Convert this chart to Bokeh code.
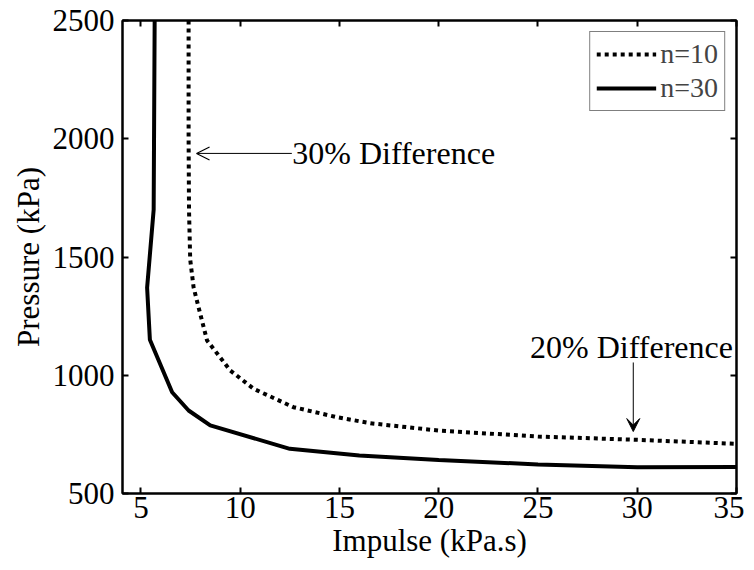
from bokeh.plotting import figure
from bokeh.models import (Range1d, Arrow, OpenHead, VeeHead, Label, Legend, LegendItem,
                          LinearAxis, FixedTicker, CustomJSTickFormatter)
from bokeh.embed import file_html
from bokeh.resources import INLINE

# ---- data ----
impulse_n10 = [7.40, 7.40, 7.42, 7.48, 7.65, 7.90, 8.33, 9.50, 10.67, 12.68, 14.86, 16.56, 20.0, 25.0, 30.0, 35.0]
pressure_n10 = [2500, 2000, 1700, 1490, 1372, 1288, 1147, 1020, 943, 865, 823, 797, 766, 741, 727, 710]

impulse_n30 = [5.69, 5.64, 5.31, 5.45, 6.57, 7.40, 8.49, 12.5, 16.0, 20.0, 25.0, 30.0, 35.0]
pressure_n30 = [2500, 1700, 1370, 1150, 928, 851, 788, 689, 661, 642, 623, 611, 612]

x_ticks = [5, 10, 15, 20, 25, 30, 35]
y_ticks = [500, 1000, 1500, 2000, 2500]
series_labels = ["n=10", "n=30"]

FONT = "Liberation Serif"
FS_TICK = "31px"
FS_LABEL = "31px"
FS_NOTE = "32px"
FS_LEG = "28px"

p = figure(width=744, height=570, output_backend="svg", toolbar_location=None,
           x_range=Range1d(4.07, 35), y_range=Range1d(500, 2500),
           min_border_left=122, min_border_right=8, min_border_top=20, min_border_bottom=77)
p.background_fill_color = "white"
p.border_fill_color = "white"
p.outline_line_color = "black"
p.outline_line_width = 2
p.grid.visible = False

for ax, ticks in ((p.xaxis[0], x_ticks), (p.yaxis[0], y_ticks)):
    ax.ticker = FixedTicker(ticks=ticks)
    ax.major_tick_in = 6
    ax.major_tick_out = 0
    ax.minor_tick_line_color = None
    ax.axis_line_width = 2
    ax.major_tick_line_width = 2
    ax.major_label_text_font = FONT
    ax.major_label_text_font_size = FS_TICK
    ax.major_label_text_color = "black"
    ax.axis_label_text_font = FONT
    ax.axis_label_text_font_size = FS_LABEL
    ax.axis_label_text_font_style = "normal"
    ax.axis_label_text_color = "black"

p.xaxis[0].axis_label = "Impulse (kPa.s)"
p.yaxis[0].axis_label = "Pressure (kPa)"
p.xaxis[0].major_label_standoff = 3
p.yaxis[0].major_label_standoff = 8
p.xaxis[0].axis_label_standoff = 2
p.yaxis[0].axis_label_standoff = 4

# mirrored ticks on top and right
blank = CustomJSTickFormatter(code="return ''")
top = LinearAxis(ticker=FixedTicker(ticks=x_ticks), formatter=blank, major_tick_in=6, major_tick_out=0,
                 minor_tick_line_color=None, axis_line_width=2, major_tick_line_width=2,
                 major_label_standoff=0)
right = LinearAxis(ticker=FixedTicker(ticks=y_ticks), formatter=blank, major_tick_in=6, major_tick_out=0,
                   minor_tick_line_color=None, axis_line_width=2, major_tick_line_width=2,
                   major_label_standoff=0)
p.add_layout(top, "above")
p.add_layout(right, "right")

r10 = p.line(impulse_n10, pressure_n10, line_color="black", line_width=4, line_dash="4 4")
r30 = p.line(impulse_n30, pressure_n30, line_color="black", line_width=4)

legend = Legend(items=[LegendItem(label=series_labels[0], renderers=[r10]),
                       LegendItem(label=series_labels[1], renderers=[r30])],
                location="top_right", margin=11, padding=6, spacing=2,
                glyph_width=60, glyph_height=30, label_height=30, label_standoff=4,
                label_text_font=FONT, label_text_font_size=FS_LEG,
                border_line_color="black", border_line_width=1.5,
                background_fill_color="white", background_fill_alpha=1)
p.add_layout(legend)

# annotations
p.add_layout(Arrow(end=OpenHead(size=13, line_width=1.2), x_start=12.6, y_start=1938, x_end=7.8, y_end=1938,
                   line_width=1, line_color="black"))
p.add_layout(Label(x=12.62, y=1938, text="30% Difference", text_font=FONT, text_font_size=FS_NOTE,
                   text_baseline="middle", text_align="left", text_color="black"))

p.add_layout(Arrow(end=VeeHead(size=13, fill_color="black", line_color="black"),
                   x_start=29.8, y_start=1054, x_end=29.8, y_end=762,
                   line_width=1, line_color="black"))
p.add_layout(Label(x=24.6, y=1118, text="20% Difference", text_font=FONT, text_font_size=FS_NOTE,
                   text_baseline="middle", text_align="left", text_color="black"))

open("out.html", "w").write(file_html(p, INLINE))
